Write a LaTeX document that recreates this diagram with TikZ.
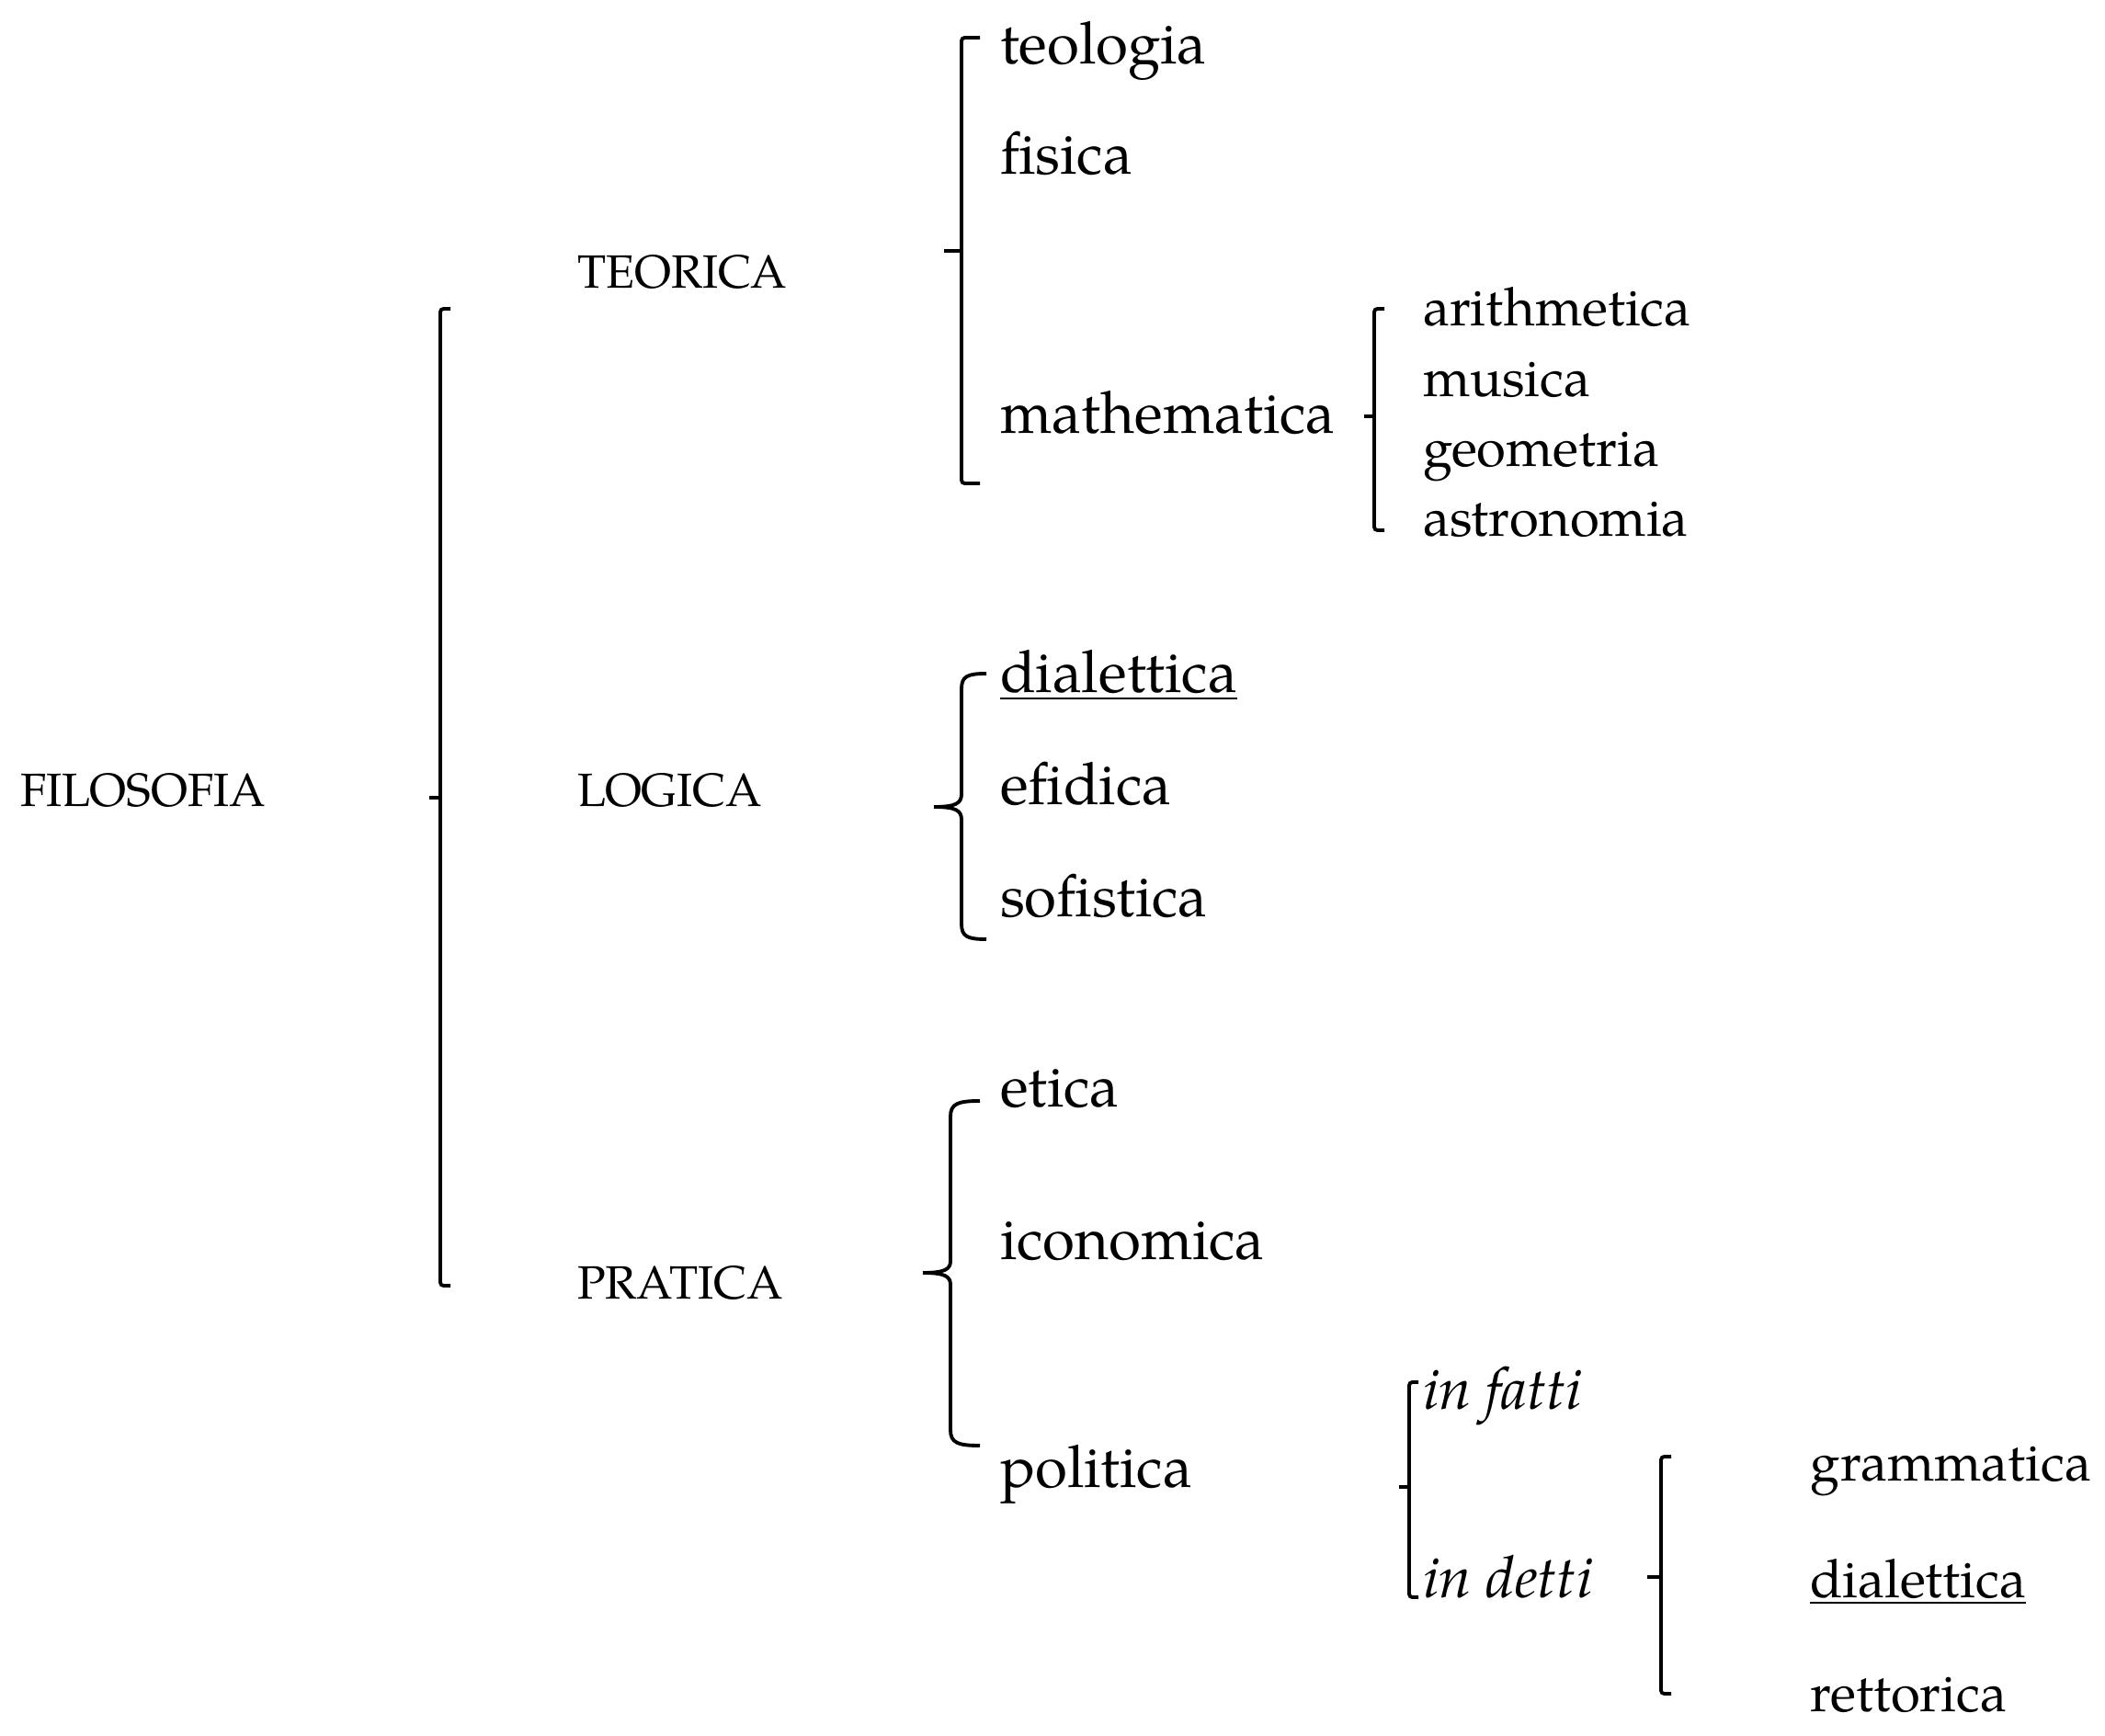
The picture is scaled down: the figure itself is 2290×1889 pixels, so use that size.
\documentclass[tikz,border=0pt]{standalone}
\usepackage{fontspec}
\setmainfont{TeX Gyre Pagella}
\begin{document}
\begin{tikzpicture}[x=0.01cm,y=-0.01cm,
  lbl/.style={anchor=base west, inner sep=0pt, outer sep=0pt},
  big/.style={lbl, font=\fontsize{18.1}{21}\selectfont},
  sml/.style={lbl, font=\fontsize{16.5}{19}\selectfont},
  itl/.style={lbl, font=\fontsize{18}{21}\selectfont\itshape},
  capsl/.style={lbl, font=\fontsize{14.45}{17}\selectfont},
  brk/.style={line width=1.1pt, rounded corners=0.035cm, line cap=butt},
  crl/.style={line width=1.1pt}]
\useasboundingbox (0,0) rectangle (2290,1889);

% level 0 / 1
\node[capsl] (filo) at (22,878) {FILOSOFIA};
\node[capsl] (teor) at (628,314) {TEORICA};
\node[capsl] (logi) at (628,878) {LOGICA};
\node[capsl] (prat) at (628,1414) {PRATICA};

% TEORICA
\node[big] (teol) at (1088,70) {teologia};
\node[big] (fisi) at (1088,190) {fisica};
\node[big] (math) at (1088,472) {mathematica};
\node[sml] (arit) at (1548,355) {arithmetica};
\node[sml] (musi) at (1548,432) {musica};
\node[sml] (geom) at (1548,508) {geometria};
\node[sml] (astr) at (1548,584) {astronomia};

% LOGICA
\node[big] (dial) at (1088,754) {\underline{dialettica}};
\node[big] (efid) at (1088,876) {efidica};
\node[big] (sofi) at (1088,998) {sofistica};

% PRATICA
\node[big] (etic) at (1088,1205) {etica};
\node[big] (icon) at (1088,1370) {iconomica};
\node[big] (poli) at (1088,1618) {politica};
\node[itl] (fatt) at (1548,1533) {in fatti};
\node[itl] (dett) at (1548,1738) {in detti};
\node[sml] (gram) at (1969,1611) {grammatica};
\node[sml] (dia2) at (1969,1738) {\underline{dialettica}};
\node[sml] (rett) at (1969,1862) {rettorica};

% bracket FILOSOFIA
\draw[brk] (490,336) -- (479,336) -- (479,1399) -- (490,1399);
\draw[brk] (467,868) -- (479,868);

% bracket TEORICA
\draw[brk] (1066,41) -- (1046,41) -- (1046,526) -- (1066,526);
\draw[brk] (1027,273) -- (1046,273);

% bracket mathematica
\draw[brk] (1506,336) -- (1495,336) -- (1495,577) -- (1506,577);
\draw[brk] (1484,453) -- (1495,453);

% bracket LOGICA (brace-like)
\draw[crl] (1073,733) .. controls (1052,733) and (1046,736) .. (1046,750)
  -- (1046,864) .. controls (1046,874) and (1040,878) .. (1016,878);
\draw[crl] (1073,1022) .. controls (1052,1022) and (1046,1019) .. (1046,1005)
  -- (1046,892) .. controls (1046,882) and (1040,878) .. (1016,878);

% bracket PRATICA (brace-like)
\draw[crl] (1066,1198) .. controls (1042,1198) and (1034,1201) .. (1034,1215)
  -- (1034,1372) .. controls (1034,1381) and (1028,1385) .. (1004,1385);
\draw[crl] (1066,1573) .. controls (1042,1573) and (1034,1570) .. (1034,1556)
  -- (1034,1398) .. controls (1034,1389) and (1028,1385) .. (1004,1385);

% bracket politica
\draw[brk] (1543,1504) -- (1533,1504) -- (1533,1738) -- (1543,1738);
\draw[brk] (1522,1618) -- (1533,1618);

% bracket in detti
\draw[brk] (1818,1585) -- (1807,1585) -- (1807,1843) -- (1818,1843);
\draw[brk] (1792,1716) -- (1807,1716);
\end{tikzpicture}
\end{document}
